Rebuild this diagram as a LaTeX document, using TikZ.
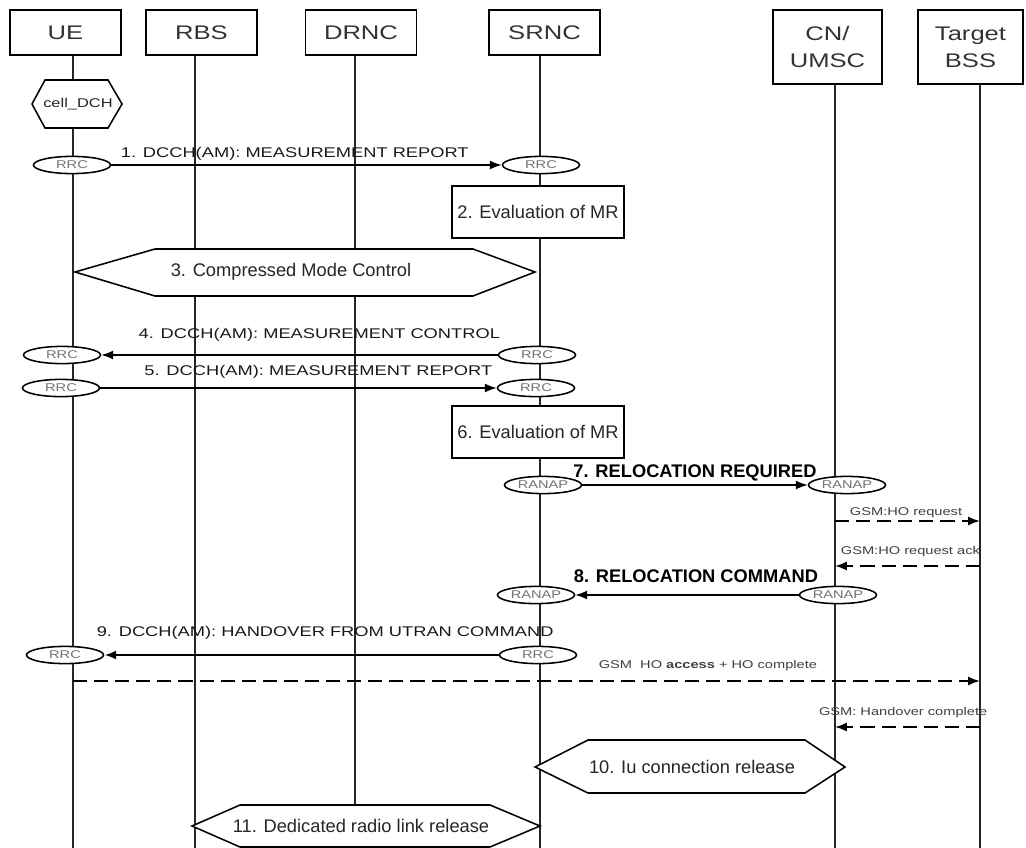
\documentclass[tikz,border=0pt]{standalone}
\usepackage{fontspec}
\setmainfont{Liberation Sans}
\newfontfamily\msgfont[FakeStretch=1.3]{Liberation Sans}
\usetikzlibrary{shapes,arrows,arrows.meta}
\tikzstyle{actor} = [draw, line width=1.2pt, minimum width=2.775cm, minimum height=1.125cm, text=black!80, font=\msgfont\fontsize{14}{19}\selectfont]
\tikzstyle{life} = [line width=1.2pt, black!85]
\tikzstyle{proto} = [draw, ellipse, line width=1.1pt, fill=white, inner sep=0pt, minimum width=1.925cm, minimum height=0.43cm, text=black!55, font=\msgfont\fontsize{8}{8}\selectfont]
\tikzstyle{evalbox} = [draw, line width=1.2pt, fill=white, minimum width=4.3cm, minimum height=1.3cm, text=black!85, font=\fontsize{13}{15}\selectfont]
\tikzstyle{hex} = [draw, line width=1.1pt, fill=white]
\tikzstyle{hextext} = [text=black!85, font=\fontsize{13}{15}\selectfont]
\tikzstyle{msg} = [->, line width=1.1pt]
\tikzstyle{gsm} = [->, line width=1.3pt, dash pattern=on 10pt off 5pt]
\tikzstyle{lbl} = [inner sep=0pt, text depth=0pt, text=black!90, font=\msgfont\fontsize{10}{12}\selectfont]
\tikzstyle{boldlbl} = [inner sep=0pt, text depth=0pt, font=\bfseries\fontsize{13}{15}\selectfont]
\tikzstyle{gsmlbl} = [inner sep=0pt, text depth=0pt, text=black!75, font=\msgfont\fontsize{8}{10}\selectfont]

\begin{document}
\begin{tikzpicture}[x=0.025cm, y=-0.025cm, >={Latex[length=8.5pt,width=6.5pt]}]
		\useasboundingbox (0,0) rectangle (1026,848);
		
		% entities
		\node [actor] (ue) at (65.5,32.5) {UE};
		\node [actor] (rbs) at (201.5,32.5) {RBS};
		\node [actor] (drnc) at (361,32.5) {DRNC};
		\node [actor] (srnc) at (544.5,32.5) {SRNC};
		\node [actor, minimum width=2.725cm, minimum height=1.85cm, align=center] (cn) at (827.5,47) {CN/\\UMSC};
		\node [actor, minimum width=2.625cm, minimum height=1.85cm, align=center] (bss) at (970.5,47) {Target\\BSS};
		
		\coordinate (ueB) at (73,848);
		\coordinate (rbsB) at (195,848);
		\coordinate (drncB) at (355,848);
		\coordinate (srncB) at (540,848);
		\coordinate (cnB) at (835,848);
		\coordinate (bssB) at (980,848);
		
		\draw [life] (ue.south -| ueB) -- (ueB);
		\draw [life] (rbs.south -| rbsB) -- (rbsB);
		\draw [life] (drnc.south -| drncB) -- (drncB);
		\draw [life] (srnc.south -| srncB) -- (srncB);
		\draw [life] (cn.south -| cnB) -- (cnB);
		\draw [life] (bss.south -| bssB) -- (bssB);
		
		% state
		\draw [hex] (32,104) -- (45,80) -- (108,80) -- (122,104) -- (108,128) -- (45,128) -- cycle;
		\node [text=black!85, font=\msgfont\fontsize{9}{9}\selectfont] (dch) at (78,104) {cell\_DCH};
		
		% 1
		\node [proto] (rrc1a) at (72,165) {RRC};
		\node [proto] (rrc1b) at (541,165) {RRC};
		\draw [msg] (rrc1a) -- node [lbl, above=5pt, pos=0.47] (m1) {1. DCCH(AM): MEASUREMENT REPORT} (rrc1b);
		
		% 2, 3
		\node [evalbox] (ev2) at (538,212) {2. Evaluation of MR};
		\draw [hex] (75,272) -- (155,249) -- (473,249) -- (535,272) -- (473,296) -- (155,296) -- cycle;
		\node [hextext] (cmc) at (291,272) {3. Compressed Mode Control};
		
		% 4
		\node [proto] (rrc4a) at (62,355) {RRC};
		\node [proto] (rrc4b) at (537,355) {RRC};
		\draw [msg] (rrc4b) -- node [lbl, above=11.4pt, pos=0.45] (m4) {4. DCCH(AM): MEASUREMENT CONTROL} (rrc4a);
		
		% 5, 6
		\node [proto] (rrc5a) at (61,388) {RRC};
		\node [proto] (rrc5b) at (536,388) {RRC};
		\draw [msg] (rrc5a) -- node [lbl, above=8.5pt, pos=0.55] (m5) {5. DCCH(AM): MEASUREMENT REPORT} (rrc5b);
		\node [evalbox] (ev6) at (538,432) {6. Evaluation of MR};
		
		% 7
		\node [proto] (ranap7a) at (543,485) {RANAP};
		\node [proto] (ranap7b) at (847,485) {RANAP};
		\draw [msg] (ranap7a) -- node [boldlbl, above=4.6pt, pos=0.5] (m7) {7. RELOCATION REQUIRED} (ranap7b);
		
		% GSM HO request
		\coordinate (req1) at (835,521);
		\coordinate (req2) at (980,521);
		\draw [gsm] (req1) -- node [gsmlbl, above=3.6pt, pos=0.49] (greq) {GSM:HO request} (req2);
		\coordinate (ack1) at (980,566);
		\coordinate (ack2) at (835,566);
		\draw [gsm] (ack1) -- node [gsmlbl, above=7.8pt, pos=0.48] (gack) {GSM:HO request ack} (ack2);
		
		% 8
		\node [proto] (ranap8a) at (536,595) {RANAP};
		\node [proto] (ranap8b) at (838,595) {RANAP};
		\draw [msg] (ranap8b) -- node [boldlbl, above=8.2pt, pos=0.46] (m8) {8. RELOCATION COMMAND} (ranap8a);
		
		% 9
		\node [proto] (rrc9a) at (65,655) {RRC};
		\node [proto] (rrc9b) at (538,655) {RRC};
		\draw [msg, line width=1.7pt] (rrc9b) -- node [lbl, above=12pt, pos=0.44] (m9) {9. DCCH(AM): HANDOVER FROM UTRAN COMMAND} (rrc9a);
		
		% GSM access, complete
		\coordinate (acc1) at (73,681);
		\coordinate (acc2) at (980,681);
		\draw [gsm] (acc1) -- node [gsmlbl, above=8.5pt, pos=0.7] (gacc) {GSM\ \ HO \textbf{access} + HO complete} (acc2);
		\coordinate (cpl1) at (980,727);
		\coordinate (cpl2) at (835,727);
		\draw [gsm] (cpl1) -- node [gsmlbl, above=7.8pt, pos=0.53] (gcpl) {GSM: Handover complete} (cpl2);
		
		% 10, 11
		\draw [hex] (535,767) -- (588,740) -- (805,740) -- (845,767) -- (805,793) -- (588,793) -- cycle;
		\node [hextext] (iurel) at (692,767) {10. Iu connection release};
		\draw [hex] (192,826) -- (240,805) -- (490,805) -- (540,826) -- (490,847) -- (240,847) -- cycle;
		\node [hextext] (rlrel) at (361,826) {11. Dedicated radio link release};
		
		\end{tikzpicture}
\end{document}
